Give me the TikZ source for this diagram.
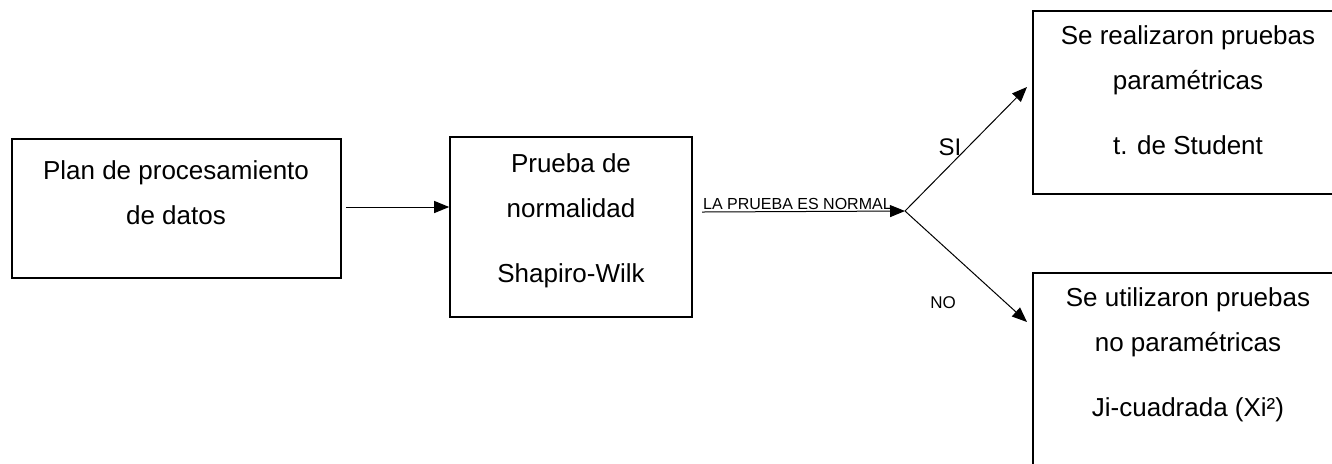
\documentclass[tikz,border=0pt]{standalone}
\usepackage{fontspec}
\setmainfont{Liberation Sans}
\usetikzlibrary{arrows.meta, positioning, fit}

\begin{document}
\begin{tikzpicture}[
          x=0.5pt, y=-0.5pt,
          box/.style={rectangle, draw=black, line width=0.8pt, inner sep=0pt},
          txt/.style={align=center, inner sep=0pt, anchor=north,
                      font=\fontsize{13}{22.5}\selectfont},
          lbl/.style={inner sep=0.5pt, font=\fontsize{8}{9}\selectfont},
          arr/.style={-{Triangle[length=7.5pt, width=6pt]}, line width=0.5pt}
        ]
        \useasboundingbox (0,0) rectangle (1332,463);
        \clip (0,0) rectangle (1332,463);
        % Boxes
        \node[box, fit={(12,139) (341,278)}] (plan) {};
        \node[box, fit={(450,137) (692,317)}] (norm) {};
        \node[box, minimum width=200pt, minimum height=91.5pt, anchor=north west]
              (param) at (1032,10) {};
        \node[box, minimum width=200pt, minimum height=150pt, anchor=north west]
              (noparam) at (1032,272) {};
        % Box texts
        \node[txt] (plantxt) at (176,160) {Plan de procesamiento\\de datos};
        \node[txt] (normtxt) at (571,153)
              {Prueba de\\normalidad\\[10pt]Shapiro-Wilk};
        \node[txt] (paramtxt) at (1188,25)
              {Se realizaron pruebas\\paramétricas\\[10pt]t. de Student};
        \node[txt] (noparamtxt) at (1188,287)
              {Se utilizaron pruebas\\no paramétricas\\[10pt]Ji-cuadrada (Xi²)};
        % Connectors
        \coordinate (teststart) at (702,212);
        \coordinate (fork) at (905,211);
        \coordinate (siend) at (1027,87);
        \coordinate (noend) at (1027,322);
        \draw[arr] ([xshift=2pt]plan.east |- 0,207) -- (norm.west |- 0,207);
        \draw[arr] (teststart) -- node[lbl, above, pos=0.47]
              {LA PRUEBA ES NORMAL} (fork);
        \draw[arr] (fork) -- node[pos=0.5, shift={(-8pt,1pt)},
              font=\fontsize{12}{14}\selectfont, inner sep=0pt] {SI} (siend);
        \draw[arr] (fork) -- node[lbl, pos=0.5, shift={(-11.5pt,-18pt)},
              font=\fontsize{8.5}{10}\selectfont] {NO} (noend);
\end{tikzpicture}
\end{document}
